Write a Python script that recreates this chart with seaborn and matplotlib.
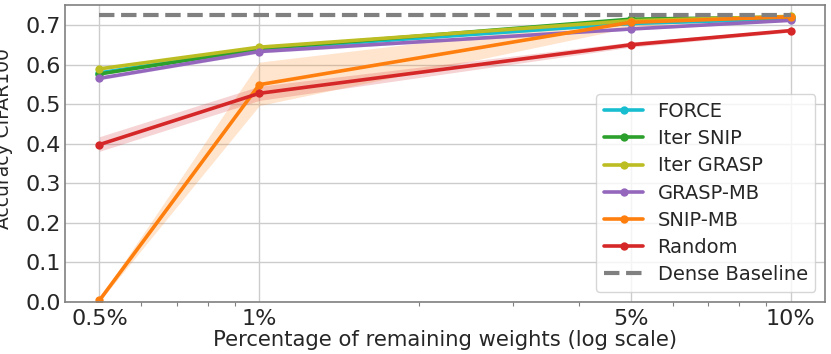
import numpy as np
import pandas as pd
import matplotlib
matplotlib.use("Agg")
import matplotlib.pyplot as plt
import seaborn as sns
from matplotlib.ticker import FixedLocator, FixedFormatter, NullFormatter

# remaining weights (%)
percentages = [0.5, 1, 5, 10]
tick_labels = ["0.5%", "1%", "5%", "10%"]

methods = ["FORCE", "Iter SNIP", "Iter GRASP", "GRASP-MB", "SNIP-MB", "Random"]
colors = ["tab:cyan", "tab:green", "tab:olive", "tab:purple", "tab:orange", "tab:red"]

force = [0.580, 0.640, 0.705, 0.717]
iter_snip = [0.577, 0.641, 0.716, 0.721]
iter_grasp = [0.590, 0.645, 0.712, 0.723]
grasp_mb = [0.566, 0.634, 0.691, 0.713]
snip_mb = [0.003, 0.550, 0.708, 0.722]
random_ = [0.398, 0.528, 0.651, 0.687]

# min / max across runs
force_lo, force_hi = [0.577, 0.637, 0.702, 0.715], [0.583, 0.643, 0.708, 0.719]
iter_snip_lo, iter_snip_hi = [0.574, 0.638, 0.713, 0.719], [0.580, 0.644, 0.719, 0.723]
iter_grasp_lo, iter_grasp_hi = [0.587, 0.642, 0.709, 0.721], [0.593, 0.648, 0.715, 0.725]
grasp_mb_lo, grasp_mb_hi = [0.562, 0.630, 0.688, 0.711], [0.570, 0.638, 0.694, 0.715]
snip_mb_lo, snip_mb_hi = [0.000, 0.497, 0.695, 0.716], [0.008, 0.607, 0.720, 0.728]
random_lo, random_hi = [0.381, 0.510, 0.645, 0.683], [0.418, 0.546, 0.658, 0.691]

dense_baseline = 0.727

means = [force, iter_snip, iter_grasp, grasp_mb, snip_mb, random_]
lows = [force_lo, iter_snip_lo, iter_grasp_lo, grasp_mb_lo, snip_mb_lo, random_lo]
highs = [force_hi, iter_snip_hi, iter_grasp_hi, grasp_mb_hi, snip_mb_hi, random_hi]

rows = []
for name, vals, lo, hi in zip(methods, means, lows, highs):
    for p, v, l, h in zip(percentages, vals, lo, hi):
        rows.append({"pct": p, "acc": v, "lo": l, "hi": h, "method": name})
df = pd.DataFrame(rows)

sns.set_theme(style="whitegrid")
plt.rcParams['font.family'] = ['DejaVu Sans']
plt.rcParams['axes.edgecolor'] = '0.5'

fig, ax = plt.subplots(figsize=(8.31, 3.54), dpi=100)
fig.subplots_adjust(left=0.078, right=0.993, top=0.986, bottom=0.148)

palette = dict(zip(methods, colors))
for name in methods:
    sub = df[df["method"] == name]
    ax.fill_between(sub["pct"], sub["lo"], sub["hi"], color=palette[name], alpha=0.2, lw=0)
    sns.lineplot(data=sub, x="pct", y="acc", color=palette[name], marker="o",
                 markersize=6, markeredgewidth=0, linewidth=2.6, label=name, ax=ax)

sns.lineplot(x=[percentages[0], percentages[-1]], y=[dense_baseline, dense_baseline],
             color="gray", linestyle="--", linewidth=3, label="Dense Baseline", ax=ax)

ax.set_xscale("log")
ax.xaxis.set_major_locator(FixedLocator(percentages))
ax.xaxis.set_major_formatter(FixedFormatter(tick_labels))
ax.xaxis.set_minor_formatter(NullFormatter())
ax.tick_params(axis="x", which="minor", bottom=True, length=3, width=0.8, color="0.5")
ax.tick_params(axis="x", which="major", length=0, pad=5)
ax.tick_params(axis="y", which="major", length=0, pad=3)
ax.tick_params(labelsize=16)
ax.set_ylim(0, 0.752)
ax.set_yticks([0.0, 0.1, 0.2, 0.3, 0.4, 0.5, 0.6, 0.7])

ax.set_xlabel("Percentage of remaining weights (log scale)", fontsize=15.2, labelpad=1)
ax.set_ylabel("Accuracy CIFAR100", fontsize=13.5)
ax.yaxis.set_label_coords(-0.068, 0.55)

for s in ax.spines.values():
    s.set_linewidth(1.2)

ax.legend(loc="lower right", fontsize=14, frameon=True, handlelength=2.0,
          handletextpad=0.75, borderaxespad=0.5, labelspacing=0.42)

plt.savefig("out.png", dpi=100)
